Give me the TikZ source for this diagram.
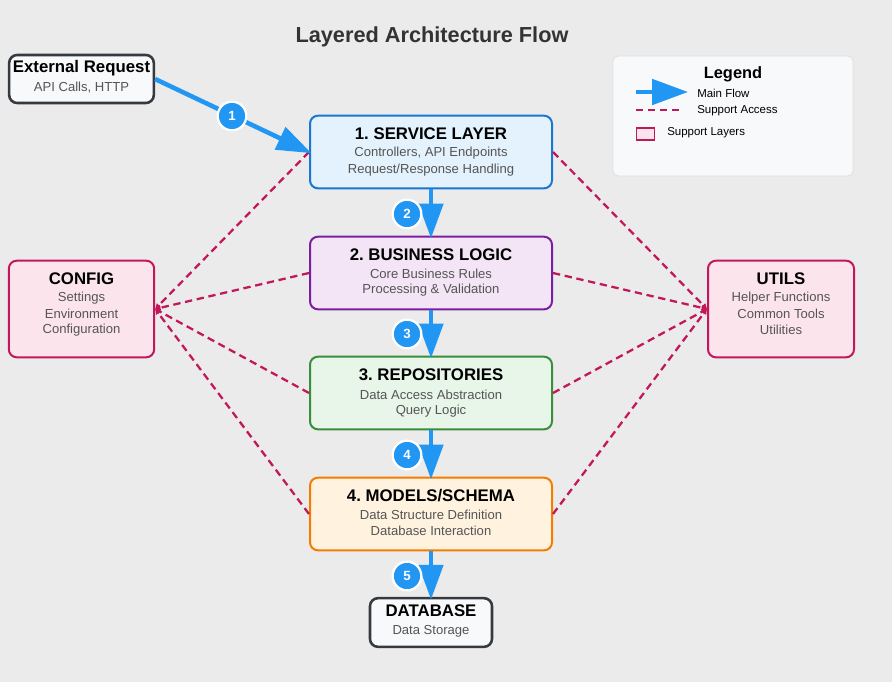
\documentclass[tikz,border=0pt]{standalone}
\usepackage{fontspec}
\setmainfont{Liberation Sans}
\frenchspacing
\usetikzlibrary{arrows.meta}
\definecolor{bg}{HTML}{EBEBEB}
\definecolor{flow}{HTML}{2196F3}
\definecolor{supp}{HTML}{C2185B}
\definecolor{subtxt}{HTML}{555555}
\definecolor{darkb}{HTML}{343A40}
\definecolor{lightf}{HTML}{F8F9FA}
\definecolor{svcF}{HTML}{E3F2FD}\definecolor{svcD}{HTML}{1976D2}
\definecolor{busF}{HTML}{F3E5F5}\definecolor{busD}{HTML}{7B1FA2}
\definecolor{repF}{HTML}{E8F5E9}\definecolor{repD}{HTML}{388E3C}
\definecolor{modF}{HTML}{FFF3E0}\definecolor{modD}{HTML}{F57C00}
\definecolor{supF}{HTML}{FCE4EC}
\tikzset{
  box/.style={rectangle, rounded corners=6pt, line width=1.5pt, inner sep=0pt},
  ttl/.style={font=\bfseries\fontsize{12.6}{14}\selectfont, text=black, inner sep=0pt},
  sub/.style={font=\fontsize{9.8}{11}\selectfont, text=subtxt, inner sep=0pt},
  mainflow/.style={draw=flow, line width=3.4pt, -{Triangle[length=26pt,width=18pt]}, shorten >=-2pt},
  support/.style={draw=supp, line width=1.7pt, dash pattern=on 5.5pt off 3.5pt},
  badge/.style={circle, fill=flow, draw=white, line width=1.7pt, minimum size=21.5pt, inner sep=0pt, text=white, font=\bfseries\fontsize{10}{11}\selectfont},
  legtxt/.style={font=\fontsize{8.6}{10}\selectfont, text=black, anchor=west, inner sep=0pt},
}
\begin{document}
\begin{tikzpicture}[x=0.75pt,y=-0.75pt]
\fill[bg] (0,0) rectangle (892,682);
\useasboundingbox (0,0) rectangle (892,682);

\node[font=\bfseries\fontsize{16.3}{19}\selectfont, text=black!80] (title) at (432,37) {Layered Architecture Flow};

% legend
\node[draw=black!12, fill=lightf, rounded corners=4pt, line width=0.6pt, minimum width=180pt, minimum height=90pt, inner sep=0pt] (legend) at (733,116) {};
\node[font=\bfseries\fontsize{12.3}{14}\selectfont, inner sep=0pt] (legtitle) at (733,74) {Legend};
\coordinate (la1) at (636,92); \coordinate (la2) at (688,92);
\draw[draw=flow, line width=3pt, -{Triangle[length=27pt,width=19pt]}] (la1) -- (la2);
\node[legtxt] (lmain) at (697,93) {Main Flow};
\coordinate (ld1) at (636,110); \coordinate (ld2) at (680,110);
\draw[support] (ld1) -- (ld2);
\node[legtxt] (lsupp) at (697,111) {Support Access};
\node[draw=supp, fill=supF, line width=1pt, minimum width=13.5pt, minimum height=9pt, inner sep=0pt] (lrect) at (645.5,134) {};
\node[legtxt] (llay) at (667,133) {Support Layers};

% boxes
\node[box, draw=darkb, fill=lightf, line width=1.9pt, minimum width=108.5pt, minimum height=36pt] (ext) at (81.5,79) {};
\node[ttl] (extT) at (81.5,68) {External Request};
\node[sub] (extS) at (81.5,88) {API Calls, HTTP};

\node[box, draw=svcD, fill=svcF, minimum width=181.5pt, minimum height=54.5pt] (svc) at (431,152) {};
\node[ttl] (svcT) at (431,134) {1. SERVICE LAYER};
\node[sub] (svcS1) at (431,153) {Controllers, API Endpoints};
\node[sub] (svcS2) at (431,170) {Request/Response Handling};

\node[box, draw=busD, fill=busF, minimum width=181.5pt, minimum height=54.5pt] (bus) at (431,273) {};
\node[ttl] (busT) at (431,255) {2. BUSINESS LOGIC};
\node[sub] (busS1) at (431,274) {Core Business Rules};
\node[sub] (busS2) at (431,290) {Processing \& Validation};

\node[box, draw=repD, fill=repF, minimum width=181.5pt, minimum height=54.5pt] (rep) at (431,393) {};
\node[ttl] (repT) at (431,375) {3. REPOSITORIES};
\node[sub] (repS1) at (431,395) {Data Access Abstraction};
\node[sub] (repS2) at (431,411) {Query Logic};

\node[box, draw=modD, fill=modF, minimum width=181.5pt, minimum height=54.5pt] (mod) at (431,514) {};
\node[ttl] (modT) at (431,496) {4. MODELS/SCHEMA};
\node[sub] (modS1) at (431,515) {Data Structure Definition};
\node[sub] (modS2) at (431,531) {Database Interaction};

\node[box, draw=darkb, fill=lightf, line width=1.9pt, minimum width=91.5pt, minimum height=36.5pt] (db) at (431,622.5) {};
\node[ttl] (dbT) at (431,611) {DATABASE};
\node[sub] (dbS) at (431,631) {Data Storage};

\node[box, draw=supp, fill=supF, minimum width=109pt, minimum height=72.5pt] (cfg) at (81.5,309) {};
\node[ttl] (cfgT) at (81.5,279) {CONFIG};
\node[sub] (cfgS1) at (81.5,298) {Settings};
\node[sub] (cfgS2) at (81.5,314) {Environment};
\node[sub] (cfgS3) at (81.5,330) {Configuration};

\node[box, draw=supp, fill=supF, minimum width=109.5pt, minimum height=72.5pt] (utl) at (781,309) {};
\node[ttl] (utlT) at (781,279) {UTILS};
\node[sub] (utlS1) at (781,298) {Helper Functions};
\node[sub] (utlS2) at (781,314) {Common Tools};
\node[sub] (utlS3) at (781,330) {Utilities};

% support connectors
\foreach \n in {svc,bus,rep,mod}{
  \draw[support, -{Stealth[length=4pt,width=4pt,inset=0pt]}] (\n.west) -- (cfg.east);
  \draw[support, -{Stealth[length=4pt,width=4pt,inset=0pt]}] (\n.east) -- (utl.west);
}

% main flow
\draw[mainflow] (ext.east) -- (svc.west);
\draw[mainflow] (svc.south) -- (bus.north);
\draw[mainflow] (bus.south) -- (rep.north);
\draw[mainflow] (rep.south) -- (mod.north);
\draw[mainflow] (mod.south) -- (db.north);

\node[badge] (b1) at (232,116) {1};
\node[badge] (b2) at (407,214) {2};
\node[badge] (b3) at (407,334) {3};
\node[badge] (b4) at (407,455) {4};
\node[badge] (b5) at (407,576) {5};
\end{tikzpicture}
\end{document}
